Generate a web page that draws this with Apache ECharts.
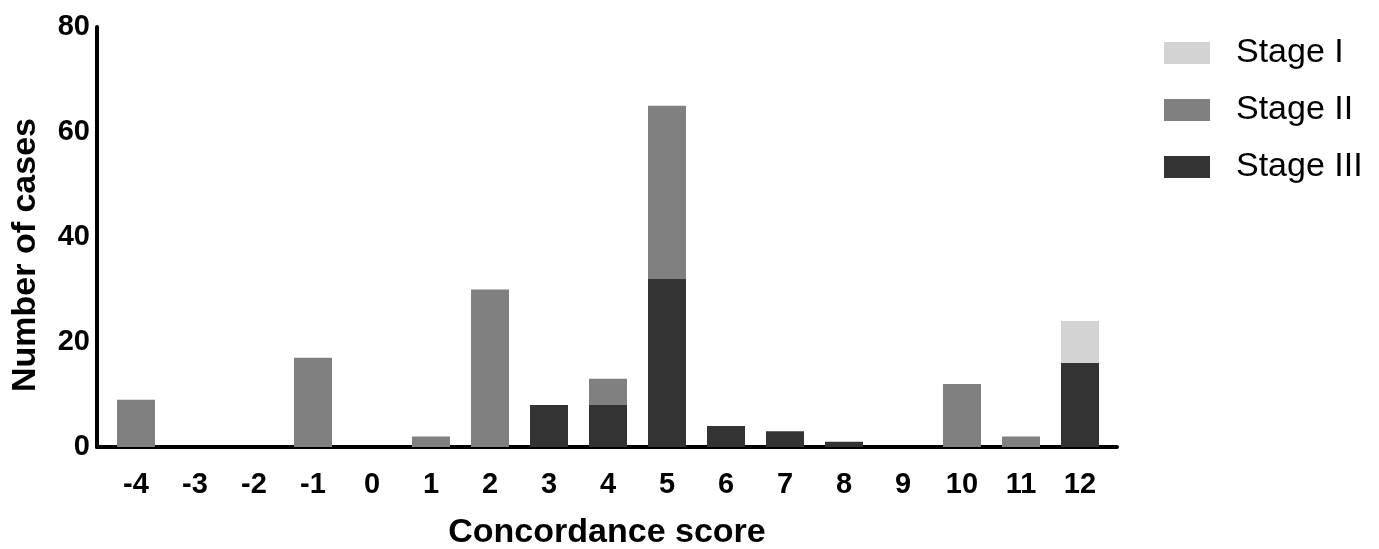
<!DOCTYPE html>
<html lang="en">
<head>
<meta charset="UTF-8" />
<title>Concordance score</title>
<script type="text/javascript" src="https://cdn.jsdelivr.net/npm/echarts@6/dist/echarts.min.js"></script>
<style>
    html, body { margin: 0; padding: 0; background: #fff; }
</style>
</head>
<body>
<div id="main" style="width: 1379px; height: 549px;"></div>
<script type="text/javascript">
    // scores on the x axis
    var scores = ['-4', '-3', '-2', '-1', '0', '1', '2', '3', '4', '5', '6', '7', '8', '9', '10', '11', '12'];
    // counts per stage (stacked: III at the bottom, then II, then I)
    var stage3 = [0, 0, 0, 0, 0, 0, 0, 8, 8, 32, 4, 3, 1, 0, 0, 0, 16];
    var stage2 = [9, 0, 0, 17, 0, 2, 30, 0, 5, 33, 0, 0, 0, 0, 12, 2, 0];
    var stage1 = [0, 0, 0, 0, 0, 0, 0, 0, 0, 0, 0, 0, 0, 0, 0, 0, 8];

    var font = '"Liberation Sans", Arial, Helvetica, sans-serif';
    var black = '#000';

    var myChart = echarts.init(document.getElementById('main'));

    var options = {
        animation: false,
        textStyle: { fontFamily: font },
        // grid 0 holds the bars, grid 1 is a bit wider and only carries the axis lines
        grid: [
            { left: 106.5, right: 269.5, top: 27, bottom: 102, outerBoundsMode: 'none' },
            { left: 97, right: 262, top: 27, bottom: 102, outerBoundsMode: 'none' }
        ],
        legend: {
            orient: 'vertical',
            left: 1164,
            top: 36,
            padding: 0,
            itemWidth: 46,
            itemHeight: 22,
            itemGap: 23,
            icon: 'rect',
            data: ['Stage I', 'Stage II', 'Stage III'],
            textStyle: {
                fontFamily: font,
                fontSize: 34,
                color: black,
                padding: [0, 0, 0, 21]
            }
        },
        xAxis: [
            {
                type: 'category',
                gridIndex: 0,
                data: scores,
                axisLine: { show: false },
                axisTick: { show: false },
                axisLabel: {
                    margin: 23,
                    fontFamily: font,
                    fontSize: 29,
                    fontWeight: 'bold',
                    color: black
                }
            },
            {
                type: 'value',
                gridIndex: 1,
                min: 0,
                max: 1,
                name: 'Concordance score',
                nameLocation: 'middle',
                nameGap: 69,
                nameTextStyle: { fontFamily: font, fontSize: 34, fontWeight: 'bold', color: black },
                splitLine: { show: false },
                axisTick: { show: false },
                axisLabel: { show: false },
                axisLine: { show: true, onZero: false, lineStyle: { color: black, width: 4 } }
            }
        ],
        yAxis: [
            {
                type: 'value',
                gridIndex: 0,
                min: 0,
                max: 80,
                show: false
            },
            {
                type: 'value',
                gridIndex: 1,
                min: 0,
                max: 80,
                interval: 20,
                name: 'Number of cases',
                nameLocation: 'middle',
                nameGap: 54,
                nameTextStyle: {
                    fontFamily: font,
                    fontSize: 34,
                    fontWeight: 'bold',
                    color: black,
                    padding: [0, 36, 0, 0]
                },
                splitLine: { show: false },
                axisTick: { show: false },
                axisLine: { show: true, onZero: false, lineStyle: { color: black, width: 4 } },
                axisLabel: {
                    margin: 7,
                    fontFamily: font,
                    fontSize: 29,
                    fontWeight: 'bold',
                    color: black
                }
            }
        ],
        series: [
            {
                name: 'Stage III',
                type: 'bar',
                stack: 'total',
                barWidth: 38,
                itemStyle: { color: '#333333' },
                data: stage3
            },
            {
                name: 'Stage II',
                type: 'bar',
                stack: 'total',
                barWidth: 38,
                itemStyle: { color: '#808080' },
                data: stage2
            },
            {
                name: 'Stage I',
                type: 'bar',
                stack: 'total',
                barWidth: 38,
                itemStyle: { color: '#d3d3d3' },
                data: stage1
            }
        ]
    };

    myChart.setOption(options);
</script>
</body>
</html>
